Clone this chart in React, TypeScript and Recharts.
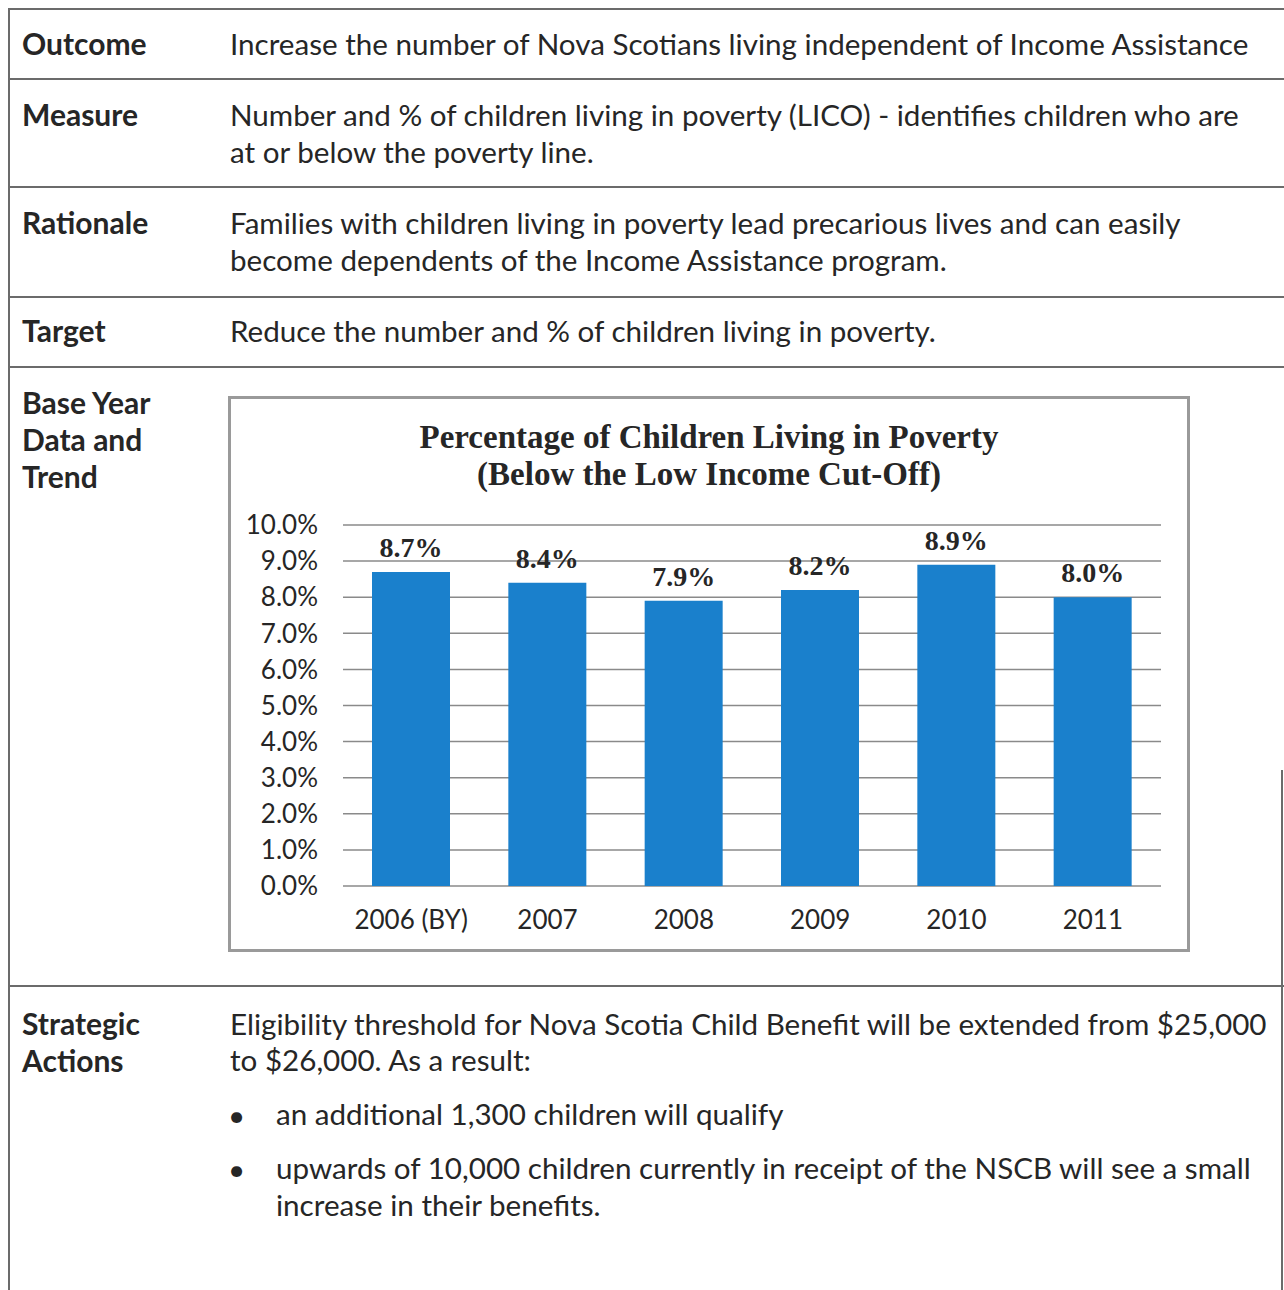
import { BarChart, Bar, XAxis, YAxis, CartesianGrid, LabelList } from "recharts";

const years = ["2006 (BY)", "2007", "2008", "2009", "2010", "2011"];
const povertyRate = [8.7, 8.4, 7.9, 8.2, 8.9, 8.0];
const rateTicks = [0, 1, 2, 3, 4, 5, 6, 7, 8, 9, 10];

const chartTitle = ["Percentage of Children Living in Poverty", "(Below the Low Income Cut-Off)"];

const data = years.map((year, i) => ({ year, rate: povertyRate[i] }));

const ink = "#262626";
const rule = "#6b6b6b";
const sans = "Lato, 'Open Sans', sans-serif";
const serif = "'Liberation Serif', serif";

const Line = ({ x, y, w, h }: { x: number; y: number; w: number; h: number }) => (
  <div style={{ position: "absolute", left: x, top: y, width: w, height: h, background: rule }} />
);

const Text = ({
  x,
  y,
  children,
  bold,
}: {
  x: number;
  y: number;
  children: React.ReactNode;
  bold?: boolean;
}) => (
  <div
    style={{
      position: "absolute",
      left: x,
      top: y - 21,
      height: 38,
      lineHeight: "38px",
      fontSize: bold ? 30 : 29.6,
      fontWeight: bold ? 700 : 400,
      whiteSpace: "nowrap",
      color: ink,
    }}
  >
    {children}
  </div>
);

const PovertyChart = () => (
  <>
    <div
      style={{
        position: "absolute",
        left: 228,
        top: 396,
        width: 962,
        height: 556,
        border: "3px solid #9a9a9a",
        boxSizing: "border-box",
        background: "#fff",
      }}
    />
    {chartTitle.map((line, i) => (
      <div
        key={line}
        style={{
          position: "absolute",
          left: 228,
          width: 962,
          top: 437 + i * 37 - 21,
          height: 42,
          lineHeight: "42px",
          textAlign: "center",
          fontFamily: serif,
          fontWeight: 700,
          fontSize: 33,
          whiteSpace: "nowrap",
          color: ink,
        }}
      >
        {line}
      </div>
    ))}
    <div style={{ position: "absolute", left: 228, top: 396 }}>
      <BarChart
        width={962}
        height={556}
        data={data}
        margin={{ top: 129, right: 29, bottom: 26, left: 0 }}
        barSize={78}
      >
        <CartesianGrid vertical={false} stroke="#8a8a8a" strokeWidth={1.5} />
        <XAxis
          dataKey="year"
          axisLine={false}
          tickLine={false}
          tickSize={0}
          tickMargin={25}
          height={40}
          tick={{ fill: ink, fontSize: 26, fontFamily: sans }}
        />
        <YAxis
          domain={[0, 10]}
          ticks={rateTicks}
          width={115}
          axisLine={false}
          tickLine={false}
          tickSize={0}
          tickMargin={25}
          tickFormatter={(v: number) => `${v.toFixed(1)}%`}
          tick={{ fill: ink, fontSize: 26, fontFamily: sans }}
        />
        <Bar dataKey="rate" fill="#1a80cc" isAnimationActive={false}>
          <LabelList
            dataKey="rate"
            position="top"
            offset={15}
            formatter={(v: number) => `${Number(v).toFixed(1)}%`}
            style={{ fill: ink, fontSize: 28, fontWeight: 700, fontFamily: serif }}
          />
        </Bar>
      </BarChart>
    </div>
  </>
);

export default function App() {
  return (
    <div
      style={{
        position: "absolute",
        left: 0,
        top: 0,
        width: 1284,
        height: 1290,
        background: "#fff",
        fontFamily: sans,
        overflow: "hidden",
      }}
    >
      <Line x={8} y={8} w={2} h={1282} />
      <Line x={1281} y={770} w={2} h={520} />
      {[8, 78, 186, 296, 366, 985].map((y) => (
        <Line key={y} x={8} y={y} w={1276} h={2} />
      ))}

      <Text x={22} y={45} bold>Outcome</Text>
      <Text x={230} y={46}>Increase the number of Nova Scotians living independent of Income Assistance</Text>

      <Text x={22} y={116} bold>Measure</Text>
      <Text x={230} y={117}>Number and % of children living in poverty (LICO) - identifies children who are</Text>
      <Text x={230} y={154}>at or below the poverty line.</Text>

      <Text x={22} y={224} bold>Rationale</Text>
      <Text x={230} y={225}>Families with children living in poverty lead precarious lives and can easily</Text>
      <Text x={230} y={262}>become dependents of the Income Assistance program.</Text>

      <Text x={22} y={332} bold>Target</Text>
      <Text x={230} y={333}>Reduce the number and % of children living in poverty.</Text>

      <Text x={22} y={404} bold>Base Year</Text>
      <Text x={22} y={441} bold>Data and</Text>
      <Text x={22} y={478} bold>Trend</Text>

      <PovertyChart />

      <Text x={22} y={1025} bold>Strategic</Text>
      <Text x={22} y={1062} bold>Actions</Text>
      <Text x={230} y={1026}>Eligibility threshold for Nova Scotia Child Benefit will be extended from $25,000</Text>
      <Text x={230} y={1062}>to $26,000. As a result:</Text>
      <Text x={228} y={1117}>•</Text>
      <Text x={276} y={1116}>an additional 1,300 children will qualify</Text>
      <Text x={228} y={1171}>•</Text>
      <Text x={276} y={1170}>upwards of 10,000 children currently in receipt of the NSCB will see a small</Text>
      <Text x={276} y={1207}>increase in their benefits.</Text>
    </div>
  );
}
